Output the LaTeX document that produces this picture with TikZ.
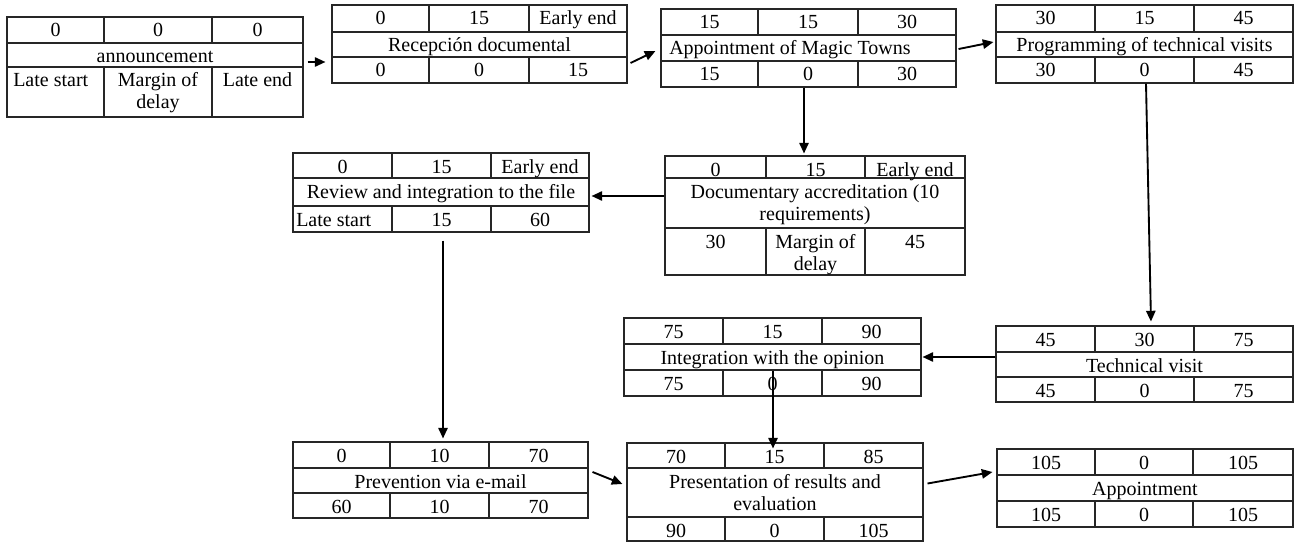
\documentclass[tikz,border=0pt]{standalone}
\usepackage{fontspec}
\setmainfont{Liberation Serif}
\usetikzlibrary{arrows.meta,fit}

\tikzset{
  frame/.style={draw=black!85, line width=0.8pt, inner sep=0pt},
  rule/.style={draw=black!85, line width=0.8pt},
  lbl/.style={anchor=base, inner sep=0pt, font=\fontsize{15}{16.5}\selectfont},
  lbll/.style={lbl, anchor=base west},
  wrap/.style={lbl, text width=#1, align=flush center},
  arr/.style={line width=1.4pt, -{Triangle[length=8pt,width=7pt]}},
}

% outer frame (named) plus the two row rules and the column rules of rows 1 and 3
% #1 name, #2..#5 column edges, #6..#9 row edges
\newcommand{\tablegrid}[9]{%
  \node[frame, fit={(#2,#6) (#5,#9)}] (#1) {};
  \draw[rule] (#2,#7) -- (#5,#7) (#2,#8) -- (#5,#8)
    (#3,#6) -- (#3,#7) (#4,#6) -- (#4,#7)
    (#3,#8) -- (#3,#9) (#4,#8) -- (#4,#9);
}
% three cell labels on one baseline
\newcommand{\cellrow}[8]{%
  \node[lbl] (#1-a) at (#3,#2) {#6};
  \node[lbl] (#1-b) at (#4,#2) {#7};
  \node[lbl] (#1-c) at (#5,#2) {#8};
}

\begin{document}
\begin{tikzpicture}[x=0.75pt, y=-0.75pt]
\useasboundingbox (0,0) rectangle (1296,542);

% announcement
\tablegrid{ann}{7}{104}{212}{303}{17}{43}{67}{117}
\cellrow{ann1}{37}{55.5}{158}{257.5}{0}{0}{0}
\node[lbl] (ann2) at (155,63) {announcement};
\node[lbll] (ann3a) at (13,87) {Late start};
\node[wrap=74pt] (ann3b) at (158,87) {Margin of\\delay};
\node[lbl] (ann3c) at (257.5,87) {Late end};

% Recepción documental
\tablegrid{rec}{332}{429}{529}{627}{5}{32}{57}{83}
\cellrow{rec1}{25}{380.5}{479}{578}{0}{15}{Early end}
\node[lbl] (rec2) at (479.5,52) {Recepción documental};
\cellrow{rec3}{77}{380.5}{479}{578}{0}{0}{15}

% Appointment of Magic Towns
\tablegrid{mag}{661}{758}{858}{956}{9}{35}{61}{87}
\cellrow{mag1}{29}{709.5}{808}{907}{15}{15}{30}
\node[lbll] (mag2) at (669,55) {Appointment of Magic Towns};
\cellrow{mag3}{81}{709.5}{808}{907}{15}{0}{30}

% Programming of technical visits
\tablegrid{prog}{996}{1095}{1194}{1293}{5}{32}{57}{83}
\cellrow{prog1}{25}{1045.5}{1144.5}{1243.5}{30}{15}{45}
\node[lbl] (prog2) at (1144.5,52) {Programming of technical visits};
\cellrow{prog3}{77}{1045.5}{1144.5}{1243.5}{30}{0}{45}

% Review and integration to the file
\tablegrid{rev}{293}{392}{491}{589}{153}{178}{206}{232}
\cellrow{rev1}{173}{342.5}{441.5}{540}{0}{15}{Early end}
\node[lbl] (rev2) at (441,198) {Review and integration to the file};
\node[lbll] (rev3a) at (296,226) {Late start};
\node[lbl] (rev3b) at (441.5,226) {15};
\node[lbl] (rev3c) at (540,226) {60};

% Documentary accreditation
\tablegrid{doc}{665}{766}{865}{965}{156}{178}{228}{275}
\cellrow{doc1}{176}{715.5}{815.5}{915}{0}{15}{Early end}
\node[wrap=220pt] (doc2) at (815,198) {Documentary accreditation (10\\requirements)};
\node[lbl] (doc3a) at (715.5,248) {30};
\node[wrap=74pt] (doc3b) at (815.5,248) {Margin of\\delay};
\node[lbl] (doc3c) at (915,248) {45};

% Integration with the opinion
\tablegrid{integ}{624}{723}{822}{921}{318}{344}{370}{396}
\cellrow{integ1}{338}{673.5}{772.5}{871.5}{75}{15}{90}
\node[lbl] (integ2) at (772.5,364) {Integration with the opinion};
\cellrow{integ3}{390}{673.5}{772.5}{871.5}{75}{0}{90}

% Technical visit
\tablegrid{tv}{996}{1095}{1194}{1293}{326}{352}{377}{402}
\cellrow{tv1}{346}{1045.5}{1144.5}{1243.5}{45}{30}{75}
\node[lbl] (tv2) at (1144.5,372) {Technical visit};
\cellrow{tv3}{397}{1045.5}{1144.5}{1243.5}{45}{0}{75}

% Prevention via e-mail
\tablegrid{prev}{293}{390}{489}{588}{442}{468}{493}{518}
\cellrow{prev1}{462}{341.5}{439.5}{538.5}{0}{10}{70}
\node[lbl] (prev2) at (440.5,488) {Prevention via e-mail};
\cellrow{prev3}{513}{341.5}{439.5}{538.5}{60}{10}{70}

% Presentation of results and evaluation
\tablegrid{pres}{627}{725}{824}{923}{443}{468}{517}{541}
\cellrow{pres1}{463}{676}{774.5}{873.5}{70}{15}{85}
\node[wrap=220pt] (pres2) at (775,488) {Presentation of results and\\evaluation};
\cellrow{pres3}{537}{676}{774.5}{873.5}{90}{0}{105}

% Appointment
\tablegrid{app}{997}{1095}{1193}{1293}{449}{475}{501}{527}
\cellrow{app1}{469}{1046}{1144}{1243}{105}{0}{105}
\node[lbl] (app2) at (1145,495) {Appointment};
\cellrow{app3}{521}{1046}{1144}{1243}{105}{0}{105}

% connectors
\draw[arr] ([shift={(4,-5)}]ann.east) -- ([shift={(-6,18)}]rec.west);
\draw[arr] ([shift={(3,19)}]rec.east) -- ([shift={(-5,3)}]mag.west);
\draw[arr] ([shift={(2,1)}]mag.east) -- ([shift={(-2,-2)}]prog.west);
\draw[arr] ([shift={(-4.5,0)}]mag.south) -- ([shift={(-11,-2)}]doc.north);
\draw[arr] ([shift={(0,-19.5)}]doc.west) -- ([shift={(2,3.5)}]rev.east);
\draw[arr] ([shift={(1.5,0)}]prog.south) -- ([shift={(6.5,-4)}]tv.north);
\draw[arr] ([shift={(0,-7)}]tv.west) -- ([shift={(1,0)}]integ.east);
\draw[arr] ([shift={(0.5,-26)}]integ.south) -- ([shift={(-2,6)}]pres.north);
\draw[arr] ([shift={(2,8)}]rev.south) -- ([shift={(2.5,-3)}]prev.north);
\draw[arr] ([shift={(4,-8)}]prev.east) -- ([shift={(-4,-8)}]pres.west);
\draw[arr] ([shift={(4,-8.5)}]pres.east) -- ([shift={(-4,-16)}]app.west);
\end{tikzpicture}
\end{document}
